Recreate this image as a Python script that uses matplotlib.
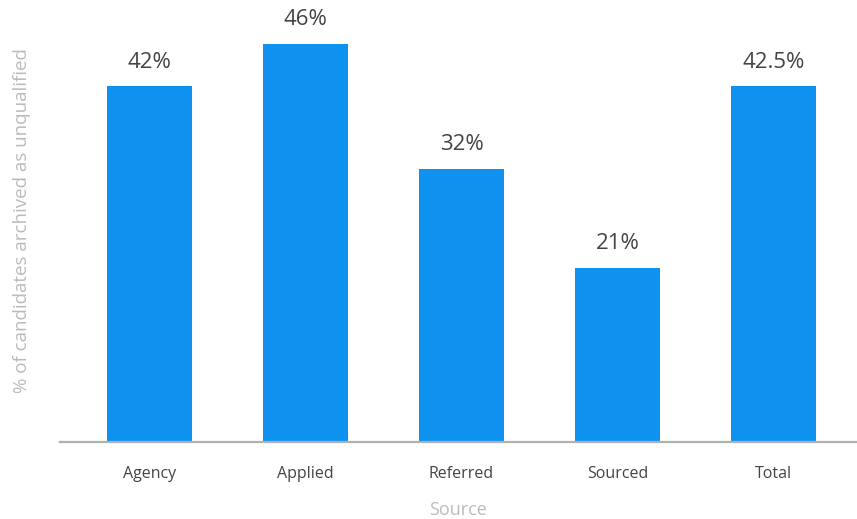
import matplotlib
matplotlib.use('agg')
import matplotlib.pyplot as plt
import numpy as np

plt.rcParams['font.family'] = ['Open Sans', 'DejaVu Sans']

# data
sources = ['Agency', 'Applied', 'Referred', 'Sourced', 'Total']
pct_labels = ['42%', '46%', '32%', '21%', '42.5%']
heights = [41.1, 46.0, 31.6, 20.1, 41.1]   # bar heights as drawn (% units)

bar_col = '#0f91f0'

fig = plt.figure(figsize=(8.57, 5.19), dpi=100)
ax = fig.add_axes([0.070, 0.1484, 0.930, 0.8516])

xpos = np.arange(len(sources))
bars = ax.bar(xpos, heights, width=0.545, color=bar_col, zorder=2)

for b, lab in zip(bars, pct_labels):
    ax.annotate(lab, (b.get_x() + b.get_width()/2, b.get_height()),
                xytext=(0, 10), textcoords='offset points',
                ha='center', va='bottom', fontsize=16, color='#444444')

ax.set_xlim(-0.574, 4.535)
ax.set_ylim(0, 51.1)

for s in ['top', 'right', 'left']:
    ax.spines[s].set_visible(False)
ax.spines['bottom'].set_color('#b0b0b0')
ax.spines['bottom'].set_linewidth(1.6)
ax.spines['bottom'].set_zorder(3)

ax.set_yticks([])
ax.set_xticks(xpos)
ax.set_xticklabels(sources, fontsize=11.5, color='#444444')
ax.tick_params(axis='x', length=0, pad=17)

ax.set_xlabel('Source', fontsize=13, color='#bbbbbb', labelpad=14)
ax.set_ylabel('% of candidates archived as unqualified', fontsize=13.5,
              color='#bbbbbb', labelpad=21)

fig.savefig('out.png', dpi=100)
